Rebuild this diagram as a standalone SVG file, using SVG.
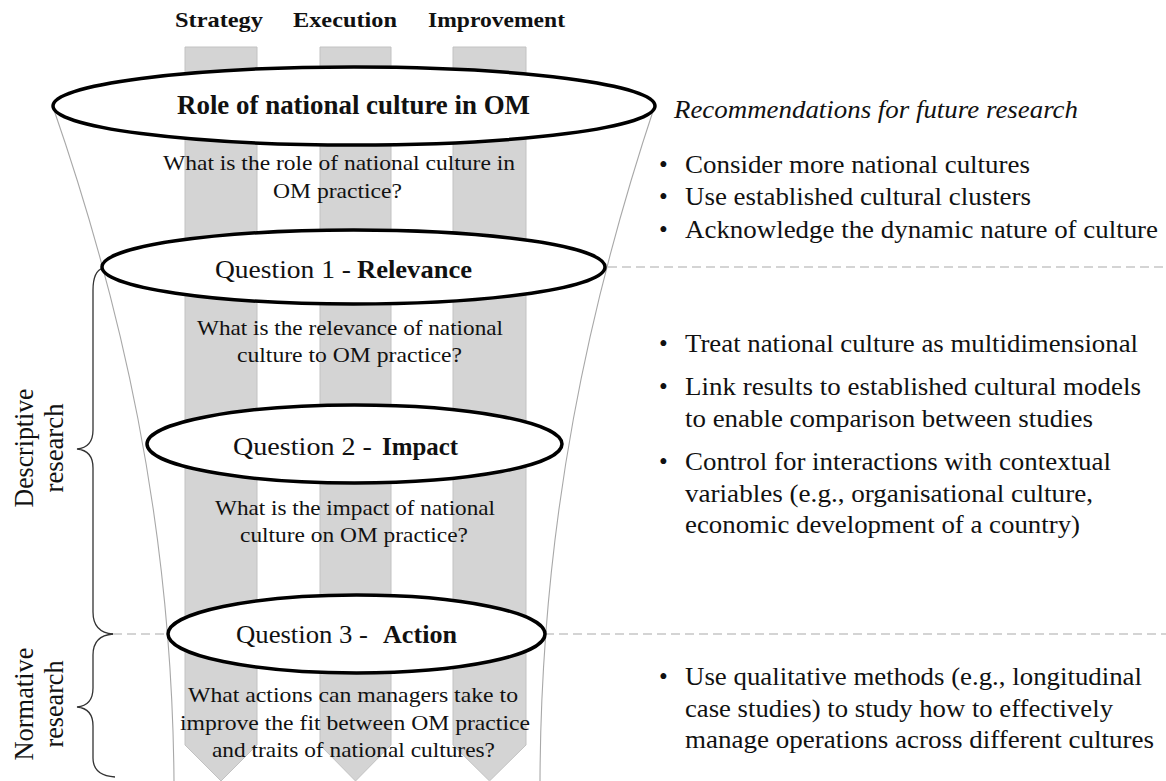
<svg xmlns="http://www.w3.org/2000/svg" width="1166" height="781" viewBox="0 0 1166 781">
<style>
text{font-family:"Liberation Serif","Times New Roman",Times,serif;fill:#111}
.hd{font-size:21px;font-weight:bold;text-anchor:middle}
.ttl{font-size:27px;font-weight:bold}
.q{font-size:25px}
.qb{font-size:25px;font-weight:bold}
.sub{font-size:22px}
.rt{font-size:25px}
.it{font-size:25px;font-style:italic}
.side{font-size:28px;text-anchor:middle}
.bar{fill:#d4d4d4;stroke:#c2c2c2;stroke-width:1}
.ell{fill:#fff;stroke:#000;stroke-width:3.5}
.fun{fill:none;stroke:#a8a8a8;stroke-width:1.1}
.dash{fill:none;stroke:#aaa;stroke-width:1.2;stroke-dasharray:9 5}
.brace{fill:none;stroke:#333;stroke-width:1.3}
</style>
<rect width="1166" height="781" fill="#fff"/>

<g id="headers">
<text class="hd" x="219" y="27" textLength="88" lengthAdjust="spacingAndGlyphs">Strategy</text>
<text class="hd" x="345" y="27" textLength="104" lengthAdjust="spacingAndGlyphs">Execution</text>
<text class="hd" x="496.5" y="27" textLength="137" lengthAdjust="spacingAndGlyphs">Improvement</text>
</g>

<g id="bars">
<path id="bar-strategy" class="bar" d="M185,47 H257 V745 L221,781 L185,745 Z"/>
<path id="bar-execution" class="bar" d="M320,47 H391 V745 L355.5,781 L320,745 Z"/>
<path id="bar-improvement" class="bar" d="M453,47 H526 V745 L489.5,781 L453,745 Z"/>
</g>

<g id="connectors">
<path class="fun" d="M53,107 C120,300 172,520 174,781"/>
<path class="fun" d="M655,105 C590,300 541,520 540,781"/>
<path class="dash" d="M608,267 H1166"/>
<path class="dash" d="M545,634 H1166"/>
<path class="dash" d="M113,634 H168"/>
<path class="brace" d="M103,268 C96,270 93,278 93,290 L93,430 C93,442 88,448 77,449 C88,450 93,456 93,468 L93,612 C93,626 100,633 113,634"/>
<path class="brace" d="M113,634 C100,635 93,642 93,655 L93,688 C93,700 88,706 77,707 C88,708 93,714 93,726 L93,758 C93,770 100,776 115,777"/>
</g>

<g id="node-role">
<ellipse class="ell" cx="354" cy="106" rx="301" ry="39"/>
<text class="ttl" x="177" y="114" textLength="353" lengthAdjust="spacingAndGlyphs">Role of national culture in OM</text>
<text class="sub" x="163" y="170" textLength="352" lengthAdjust="spacingAndGlyphs">What is the role of national culture in</text>
<text class="sub" x="273" y="198" textLength="129" lengthAdjust="spacingAndGlyphs">OM practice?</text>
</g>

<g id="node-q1">
<ellipse class="ell" cx="353.5" cy="267" rx="251.5" ry="37"/>
<text class="q" x="215" y="278" textLength="136" lengthAdjust="spacingAndGlyphs">Question 1 -</text>
<text class="qb" x="357" y="278" textLength="115" lengthAdjust="spacingAndGlyphs">Relevance</text>
<text class="sub" x="197" y="335" textLength="306" lengthAdjust="spacingAndGlyphs">What is the relevance of national</text>
<text class="sub" x="237" y="362" textLength="225" lengthAdjust="spacingAndGlyphs">culture to OM practice?</text>
</g>

<g id="node-q2">
<ellipse class="ell" cx="354.5" cy="444" rx="207.5" ry="39"/>
<text class="q" x="233" y="455" textLength="139" lengthAdjust="spacingAndGlyphs">Question 2 -</text>
<text class="qb" x="382" y="455" textLength="76" lengthAdjust="spacingAndGlyphs">Impact</text>
<text class="sub" x="215" y="515" textLength="280" lengthAdjust="spacingAndGlyphs">What is the impact of national</text>
<text class="sub" x="240" y="542" textLength="228" lengthAdjust="spacingAndGlyphs">culture on OM practice?</text>
</g>

<g id="node-q3">
<ellipse class="ell" cx="356.5" cy="634" rx="188.5" ry="39"/>
<text class="q" x="236" y="643" textLength="132" lengthAdjust="spacingAndGlyphs">Question 3 -</text>
<text class="qb" x="383" y="643" textLength="74" lengthAdjust="spacingAndGlyphs">Action</text>
<text class="sub" x="188" y="702" textLength="330" lengthAdjust="spacingAndGlyphs">What actions can managers take to</text>
<text class="sub" x="180" y="730" textLength="350" lengthAdjust="spacingAndGlyphs">improve the fit between OM practice</text>
<text class="sub" x="212" y="757" textLength="283" lengthAdjust="spacingAndGlyphs">and traits of national cultures?</text>
</g>

<g id="label-descriptive">
<text class="side" transform="translate(33,448) rotate(-90)" textLength="119" lengthAdjust="spacingAndGlyphs">Descriptive</text>
<text class="side" transform="translate(63,448) rotate(-90)" textLength="89" lengthAdjust="spacingAndGlyphs">research</text>
</g>
<g id="label-normative">
<text class="side" transform="translate(33,704) rotate(-90)" textLength="113" lengthAdjust="spacingAndGlyphs">Normative</text>
<text class="side" transform="translate(63,704) rotate(-90)" textLength="87" lengthAdjust="spacingAndGlyphs">research</text>
</g>

<g id="recommendations">
<text class="it" x="674" y="118" textLength="404" lengthAdjust="spacingAndGlyphs">Recommendations for future research</text>
<text class="rt" x="659" y="173">•</text>
<text class="rt" x="685" y="173" textLength="345" lengthAdjust="spacingAndGlyphs">Consider more national cultures</text>
<text class="rt" x="659" y="205">•</text>
<text class="rt" x="685" y="205" textLength="346" lengthAdjust="spacingAndGlyphs">Use established cultural clusters</text>
<text class="rt" x="659" y="238">•</text>
<text class="rt" x="685" y="238" textLength="473" lengthAdjust="spacingAndGlyphs">Acknowledge the dynamic nature of culture</text>
</g>

<g id="recommendations-descriptive">
<text class="rt" x="659" y="352">•</text>
<text class="rt" x="685" y="352" textLength="453" lengthAdjust="spacingAndGlyphs">Treat national culture as multidimensional</text>
<text class="rt" x="659" y="395">•</text>
<text class="rt" x="685" y="395" textLength="456" lengthAdjust="spacingAndGlyphs">Link results to established cultural models</text>
<text class="rt" x="685" y="427" textLength="408" lengthAdjust="spacingAndGlyphs">to enable comparison between studies</text>
<text class="rt" x="659" y="470">•</text>
<text class="rt" x="685" y="470" textLength="426" lengthAdjust="spacingAndGlyphs">Control for interactions with contextual</text>
<text class="rt" x="685" y="502" textLength="408" lengthAdjust="spacingAndGlyphs">variables (e.g., organisational culture,</text>
<text class="rt" x="685" y="533" textLength="395" lengthAdjust="spacingAndGlyphs">economic development of a country)</text>
</g>

<g id="recommendations-normative">
<text class="rt" x="659" y="685">•</text>
<text class="rt" x="685" y="685" textLength="457" lengthAdjust="spacingAndGlyphs">Use qualitative methods (e.g., longitudinal</text>
<text class="rt" x="685" y="717" textLength="428" lengthAdjust="spacingAndGlyphs">case studies) to study how to effectively</text>
<text class="rt" x="685" y="748" textLength="469" lengthAdjust="spacingAndGlyphs">manage operations across different cultures</text>
</g>
</svg>
